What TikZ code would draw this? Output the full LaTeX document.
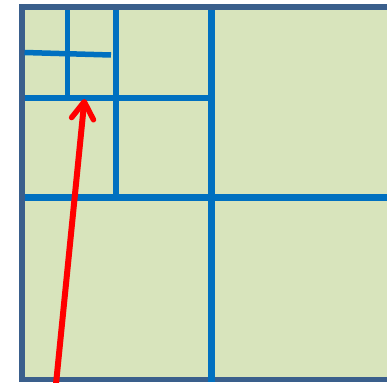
\documentclass[tikz,border=0pt]{standalone}
\usetikzlibrary{arrows.meta}
\definecolor{cellfill}{HTML}{D8E4BC}
\definecolor{frame}{HTML}{3A5F8C}
\definecolor{splitblue}{HTML}{0070C0}
\tikzset{
  major/.style={draw=splitblue,line width=7pt},
  minor/.style={draw=splitblue,line width=5.5pt},
  pointer/.style={draw=red,line width=6pt,-{Straight Barb[length=17pt,width=22pt,line width=5.5pt,round]}}
}
\begin{document}
\begin{tikzpicture}[x=1pt,y=-1pt]
\useasboundingbox (0,0) rectangle (387,382);
\clip (0,0) rectangle (387,382);
\fill[white] (0,0) rectangle (387,382);
\draw[draw=frame,fill=cellfill,line width=5.5pt] (22,7) rectangle (420,379.5);
% major splits
\draw[major] (211.5,10) -- (211.5,382);
\draw[major] (24.5,197.5) -- (390,197.5);
% second level
\draw[minor] (24.5,98) -- (208,98);
\draw[minor] (116,10) -- (116,194);
% third level
\draw[minor] (67.5,10) -- (67.5,100.5);
\draw[minor] (24.5,52.5) -- (111,55);
% pointer
\coordinate (start) at (56,384);
\coordinate (tip) at (84.5,99);
\draw[pointer] (start) -- (tip);
\end{tikzpicture}
\end{document}
